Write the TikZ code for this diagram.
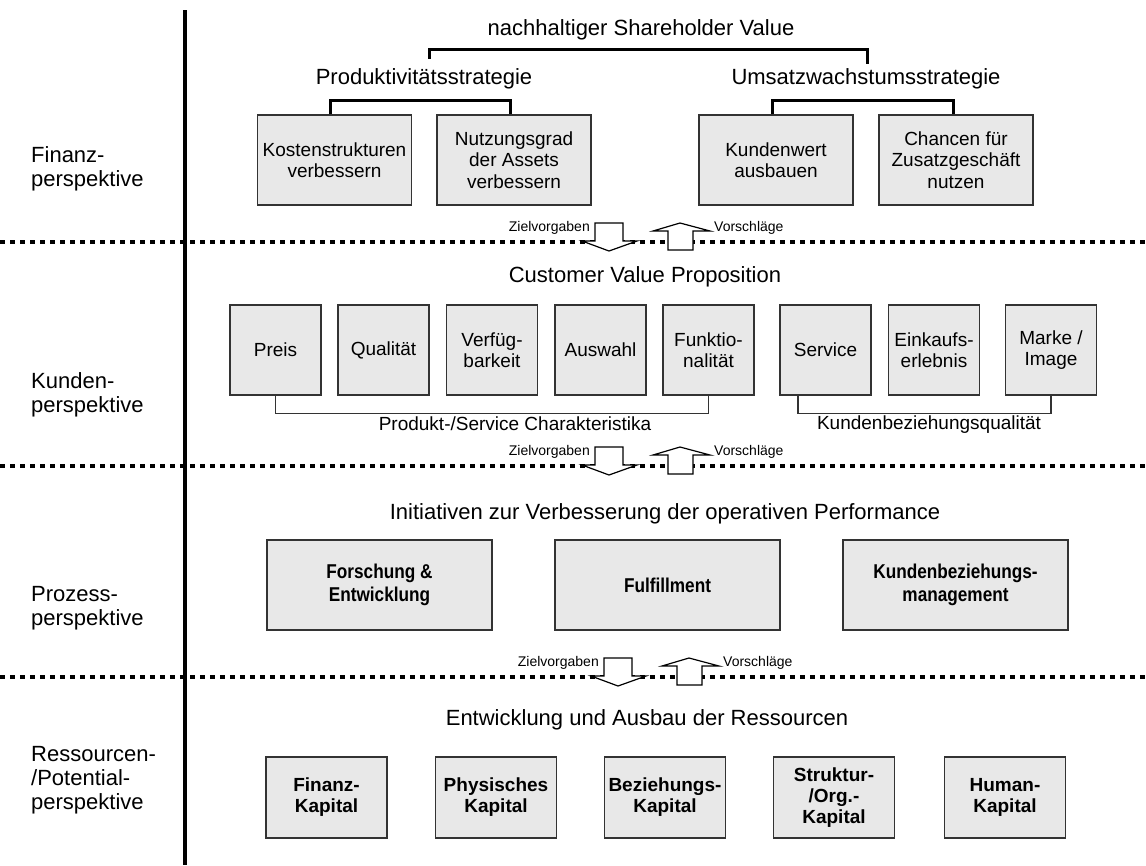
\documentclass[tikz,border=0pt]{standalone}
\usepackage{fontspec}
\setmainfont{Liberation Sans}
\usetikzlibrary{calc}
\definecolor{boxfill}{RGB}{232,232,232}
\definecolor{boxline}{RGB}{51,51,51}

\begin{document}
\begin{tikzpicture}[x=1pt,y=-1pt,
  box/.style={draw=boxline, fill=boxfill, line width=1.4pt, align=center, inner sep=0pt},
  fbox/.style={box, minimum width=154pt, minimum height=90pt, font=\fontsize{19}{21.5}\selectfont},
  cbox/.style={box, minimum width=91pt, minimum height=90pt, font=\fontsize{19}{21.5}\selectfont},
  pbox/.style={box, minimum width=225pt, minimum height=90pt,
    font=\bfseries\fontsize{20}{23}\selectfont\addfontfeatures{FakeStretch=0.86}},
  rbox/.style={box, minimum width=121pt, minimum height=81pt, font=\bfseries\fontsize{19}{21}\selectfont},
  title/.style={inner sep=0pt, font=\fontsize{22}{25}\selectfont},
  persp/.style={anchor=west, align=left, inner sep=0pt, font=\fontsize{22}{24}\selectfont},
  sub/.style={inner sep=0pt, font=\fontsize{19}{21}\selectfont},
  small/.style={inner sep=0pt, font=\fontsize{14}{16}\selectfont},
  brk/.style={line width=3pt},
  thinbrk/.style={line width=1.4pt, draw=boxline},
  sep/.style={line width=4pt, dash pattern=on 5pt off 5pt},
  blockarrow/.style={draw=black, fill=white, line width=1.2pt, line join=miter},
  handover/.pic={
    % targets passed down, proposals passed up
    \draw[blockarrow] (595,-19) -- (623,-19) -- (623,-1) -- (637,-1) -- (609,9)
      -- (582,-1) -- (595,-1) -- cycle;
    \draw[blockarrow] (680,-19) -- (710,-11) -- (693,-11) -- (693,8) -- (668,8)
      -- (668,-11) -- (653,-11) -- cycle;
    \node[small, anchor=east] (-ziel) at (590,-14) {Zielvorgaben};
    \node[small, anchor=west] (-vor) at (714,-14) {Vorschläge};
  }
]
\useasboundingbox (0,0) rectangle (1146,865);

% layer separators
\draw[sep] (0,242) -- (1146,242);
\draw[sep] (0,466) -- (1146,466);
\draw[sep] (0,677) -- (1146,677);

% vertical divider between perspective names and content
\draw[line width=3.5pt] (185,10) -- (185,865);

% perspective names
\node[persp] (pfin) at (31,169) {Finanz-\\perspektive};
\node[persp] (pkun) at (31,395) {Kunden-\\perspektive};
\node[persp] (ppro) at (31,608) {Prozess-\\perspektive};
\node[persp] (pres) at (31,780) {Ressourcen-\\/Potential-\\perspektive};

% ---------- financial perspective ----------
\node[title] (sv) at (641,30) {nachhaltiger Shareholder Value};
\node[title] (prod) at (424,79) {Produktivitätsstrategie};
\node[title] (ums) at (866,79) {Umsatzwachstumsstrategie};
\draw[brk] ([xshift=5pt,yshift=10pt]prod.north) -- ++(0,-9) -| ([xshift=1pt,yshift=5pt]ums.north);

\node[fbox] (kos) at (334.5,160) {Kostenstrukturen\\verbessern};
\node[fbox] (nut) at (514,160) {Nutzungsgrad\\der Assets\\verbessern};
\node[fbox] (kwe) at (776,160) {Kundenwert\\ausbauen};
\node[fbox] (cha) at (956,160) {Chancen für\\Zusatzgeschäft\\nutzen};
\draw[brk] ([xshift=-4pt]kos.north) -- ++(0,-14) -| ([xshift=-4pt]nut.north);
\draw[brk] ([xshift=-4pt]kwe.north) -- ++(0,-14) -| ([xshift=-3pt]cha.north);

\pic (h1) at (0,242) {handover};

% ---------- customer perspective ----------
\node[title] (cvp) at (645,277) {Customer Value Proposition};
\node[cbox] (preis) at (275.5,350) {Preis};
\node[cbox] (qual) at (383.5,350) {Qualität};
\node[cbox] (verf) at (492,350) {Verfüg-\\barkeit};
\node[cbox] (ausw) at (600.5,350) {Auswahl};
\node[cbox] (funk) at (708.5,350) {Funktio-\\nalität};
\node[cbox] (serv) at (825.5,350) {Service};
\node[cbox] (eink) at (934,350) {Einkaufs-\\erlebnis};
\node[cbox] (marke) at (1051,350) {Marke /\\Image};
\draw[thinbrk] (preis.south) -- ++(0,18) -| (funk.south);
\draw[thinbrk] ([xshift=-27.5pt]serv.south) -- ++(0,18) -| (marke.south);
\node[sub] (pchar) at (515,424) {Produkt-/Service Charakteristika};
\node[sub] (kbq) at (929,425) {Kundenbeziehungsqualität};

\pic (h2) at (0,466) {handover};

% ---------- process perspective ----------
\node[title] (init) at (665,514) {Initiativen zur Verbesserung der operativen Performance};
\node[pbox] (fue) at (379.5,585) {Forschung \&\\Entwicklung};
\node[pbox] (ful) at (667.5,585) {Fulfillment};
\node[pbox] (kbm) at (955.5,585) {Kundenbeziehungs-\\management};

\pic (h3) at (9,677) {handover};

% ---------- resource perspective ----------
\node[title] (ent) at (647,720) {Entwicklung und Ausbau der Ressourcen};
\node[rbox] (fk) at (326.5,797.5) {Finanz-\\Kapital};
\node[rbox] (pk) at (496,797.5) {Physisches\\Kapital};
\node[rbox] (bk) at (665,797.5) {Beziehungs-\\Kapital};
\node[rbox] (sk) at (834,797.5) {Struktur-\\/Org.-\\Kapital};
\node[rbox] (hk) at (1005,797.5) {Human-\\Kapital};
\end{tikzpicture}
\end{document}
